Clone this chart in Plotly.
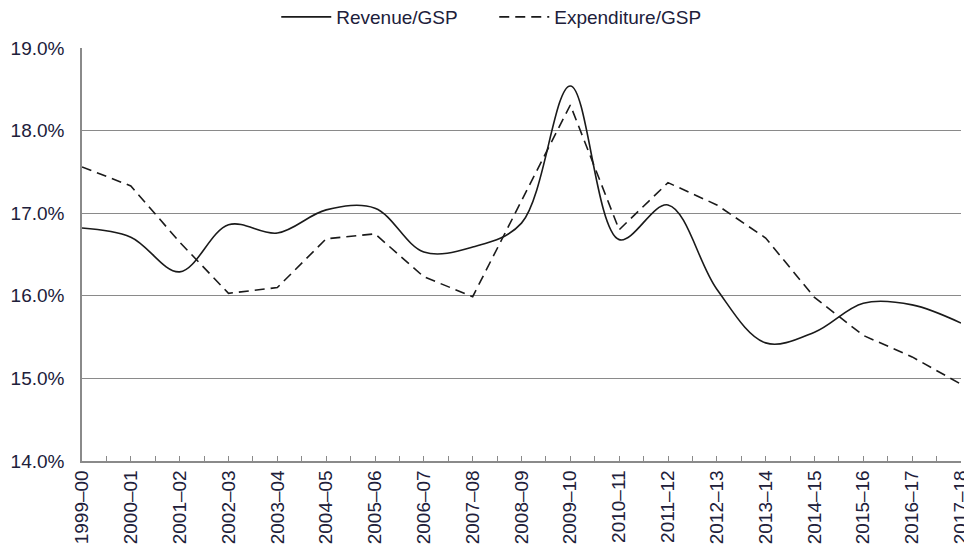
import plotly.graph_objects as go

years = ["1999–00", "2000–01", "2001–02", "2002–03", "2003–04", "2004–05", "2005–06",
         "2006–07", "2007–08", "2008–09", "2009–10", "2010–11", "2011–12", "2012–13",
         "2013–14", "2014–15", "2015–16", "2016–17", "2017–18"]
revenue = [16.82, 16.71, 16.29, 16.86, 16.76, 17.04, 17.06, 16.53, 16.59, 16.88,
           18.54, 16.68, 17.10, 16.08, 15.43, 15.56, 15.91, 15.89, 15.67]
expenditure = [17.56, 17.33, 16.65, 16.03, 16.10, 16.69, 16.75, 16.23, 15.99, 17.16,
               18.31, 16.80, 17.37, 17.10, 16.70, 15.98, 15.52, 15.26, 14.93]
yticks = [14, 15, 16, 17, 18, 19]

xi = list(range(len(years)))
fig = go.Figure()
fig.add_trace(go.Scatter(x=xi, y=revenue, name="Revenue/GSP", mode="lines",
                         line=dict(color="#1a1a1a", width=1.6, shape="spline", smoothing=1.0)))
fig.add_trace(go.Scatter(x=xi, y=expenditure, name="Expenditure/GSP", mode="lines",
                         line=dict(color="#1a1a1a", width=1.6, dash="10px,6px",
                                   shape="linear")))

font = dict(family="Liberation Sans, Arial, sans-serif", size=19, color="#20203a")
fig.update_layout(
    width=964, height=544,
    margin=dict(l=74, r=11, t=40, b=91, autoexpand=False),
    paper_bgcolor="white", plot_bgcolor="white",
    font=font,
    showlegend=True,
    legend=dict(orientation="h", x=0.469, xanchor="center", y=1.075, yanchor="middle",
                font=dict(size=19, color="#20203a"), itemwidth=50,
                entrywidth=153, entrywidthmode="pixels",
                bgcolor="rgba(0,0,0,0)"),
)
fig.update_xaxes(
    range=[-0.0001, len(years) - 1 + 0.0001], automargin=False,
    tickmode="array", tickvals=xi, ticktext=years, tickangle=-90,
    ticklabeloverflow="allow",
    showgrid=False, zeroline=False,
    showline=True, linecolor="#8a8a8a", linewidth=1.5,
    ticks="inside", ticklen=5, tickcolor="#8a8a8a", tickwidth=1,
    minor=dict(dtick=0.5, tick0=0, ticks="inside", ticklen=5, tickcolor="#8a8a8a", showgrid=False),
    tickfont=font,
)
fig.update_yaxes(
    range=[14, 19], automargin=False,
    tickmode="array", tickvals=yticks, ticktext=[f"{v:.1f}%" for v in yticks],
    showgrid=True, gridcolor="#8a8a8a", gridwidth=1.2,
    zeroline=False,
    showline=True, linecolor="#8a8a8a", linewidth=1.5,
    ticks="", ticklabelstandoff=12,
    tickfont=font,
)
fig.write_html("out.html")
